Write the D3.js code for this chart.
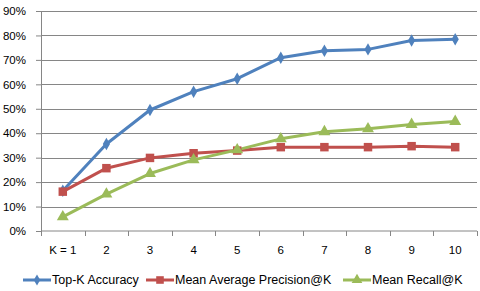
<!DOCTYPE html>
<html>
<head>
<meta charset="utf-8">
<script src="https://cdn.jsdelivr.net/npm/d3@7"></script>
<style>
  body { margin: 0; background: #fff; }
  svg { display: block; font-family: "Liberation Sans", Arial, sans-serif; }
  .tick text { fill: #000; }
</style>
</head>
<body>
<div id="chart"></div>
<script>
const categories = ["K = 1", "2", "3", "4", "5", "6", "7", "8", "9", "10"];
const topKAccuracy = [16.5, 35.6, 49.5, 57.0, 62.3, 70.9, 73.7, 74.3, 77.9, 78.4];
const meanAvgPrecision = [16.1, 25.7, 29.9, 31.8, 32.9, 34.3, 34.3, 34.3, 34.7, 34.3];
const meanRecall = [5.8, 15.1, 23.5, 29.1, 33.2, 37.7, 40.6, 41.8, 43.6, 44.8];
const yTicks = [0, 10, 20, 30, 40, 50, 60, 70, 80, 90];

const seriesNames = ["Top-K Accuracy", "Mean Average Precision@K", "Mean Recall@K"];
const seriesValues = [topKAccuracy, meanAvgPrecision, meanRecall];
const colors = ["#4F81BD", "#C0504D", "#9BBB59"];
const symbols = [d3.symbolDiamond, d3.symbolSquare, d3.symbolTriangle];
const symbolSizes = [45, 72, 62];

const width = 480, height = 291;
const margin = {top: 11, right: 3, bottom: 60, left: 41};
const innerW = width - margin.left - margin.right;
const innerH = height - margin.top - margin.bottom;

const svg = d3.select("#chart").append("svg")
    .attr("width", width)
    .attr("height", height);

const g = svg.append("g")
    .attr("transform", "translate(" + margin.left + "," + margin.top + ")");

const xScale = d3.scaleBand().domain(categories).range([0, innerW]);
const yScale = d3.scaleLinear().domain([0, 90]).range([innerH, 0]);

// y axis, labels as percentages
const yAxisG = g.append("g")
    .call(d3.axisLeft(yScale).tickValues(yTicks).tickSize(5).tickPadding(10)
        .tickFormat(d => d + "%"));
yAxisG.select(".domain").attr("stroke", "#868686");
yAxisG.selectAll(".tick line").attr("stroke", "#868686");
yAxisG.selectAll(".tick text").attr("font-size", 11.5);

// horizontal gridlines
g.append("g")
    .selectAll("line")
    .data(yTicks.filter(d => d > 0))
    .join("line")
    .attr("x1", 0)
    .attr("x2", innerW)
    .attr("y1", d => Math.round(yScale(d)) + 0.5)
    .attr("y2", d => Math.round(yScale(d)) + 0.5)
    .attr("stroke", "#868686");

// x axis with ticks between categories
const xAxisG = g.append("g")
    .attr("transform", "translate(0," + innerH + ")");
xAxisG.append("line")
    .attr("x1", 0).attr("x2", innerW)
    .attr("stroke", "#868686");
xAxisG.selectAll(".xtick")
    .data(d3.range(categories.length + 1))
    .join("line")
    .attr("class", "xtick")
    .attr("x1", i => Math.round(i * xScale.step()) + 0.5)
    .attr("x2", i => Math.round(i * xScale.step()) + 0.5)
    .attr("y1", 0).attr("y2", 5)
    .attr("stroke", "#868686");
xAxisG.selectAll(".xlabel")
    .data(categories)
    .join("text")
    .attr("class", "xlabel")
    .attr("x", d => xScale(d) + xScale.bandwidth() / 2)
    .attr("y", 23)
    .attr("text-anchor", "middle")
    .attr("font-size", 11.5)
    .text(d => d);

// series lines and markers
const line = d3.line()
    .x((d, i) => xScale(categories[i]) + xScale.bandwidth() / 2)
    .y(d => yScale(d));

seriesValues.forEach((vals, s) => {
    g.append("path")
        .datum(vals)
        .attr("fill", "none")
        .attr("stroke", colors[s])
        .attr("stroke-width", 3)
        .attr("stroke-linejoin", "round")
        .attr("d", line);
});

seriesValues.forEach((vals, s) => {
    g.selectAll(".marker" + s)
        .data(vals)
        .join("path")
        .attr("class", "marker" + s)
        .attr("transform", (d, i) => "translate(" + (xScale(categories[i]) + xScale.bandwidth() / 2) + "," + yScale(d) + ")")
        .attr("d", d3.symbol().type(symbols[s]).size(symbolSizes[s]))
        .attr("fill", colors[s]);
});

// legend
const legendStarts = [23, 146, 343];
const legendY = 280;
const legend = svg.append("g");
seriesNames.forEach((name, s) => {
    const item = legend.append("g")
        .attr("transform", "translate(" + legendStarts[s] + "," + legendY + ")");
    item.append("line")
        .attr("x1", 0).attr("x2", 28)
        .attr("stroke", colors[s])
        .attr("stroke-width", 3);
    item.append("path")
        .attr("transform", "translate(14,0)")
        .attr("d", d3.symbol().type(symbols[s]).size(symbolSizes[s] * 0.8))
        .attr("fill", colors[s]);
    item.append("text")
        .attr("x", 29)
        .attr("y", 0)
        .attr("dy", "0.35em")
        .attr("font-size", 12.5)
        .text(name);
});
</script>
</body>
</html>
